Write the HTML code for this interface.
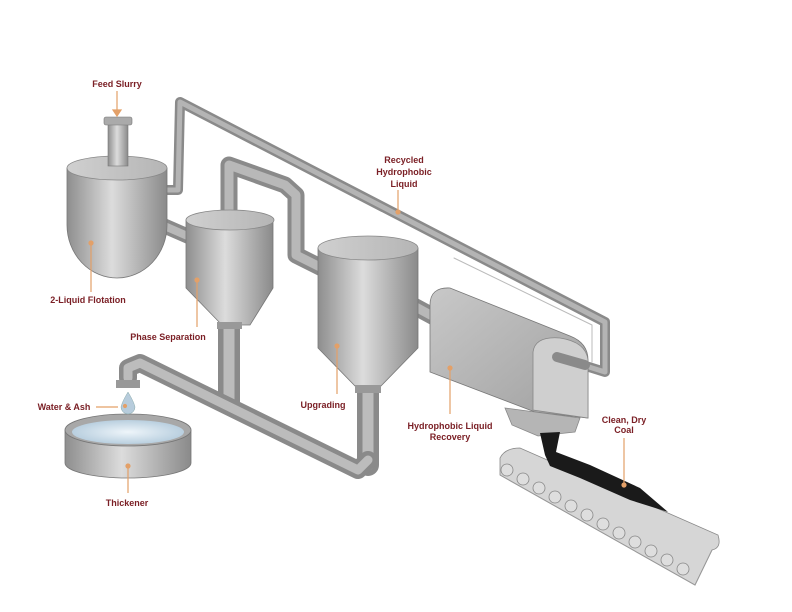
<!DOCTYPE html>
<html><head><meta charset="utf-8"><style>
html,body{margin:0;padding:0;background:#fff}
svg{display:block}
text{font-family:"Liberation Sans",sans-serif;font-weight:bold;font-size:9px;fill:#7b2026;text-anchor:middle}
</style></head><body>
<svg width="792" height="612" viewBox="0 0 792 612" xmlns="http://www.w3.org/2000/svg">
<defs>
<linearGradient id="cyl" x1="0" x2="1" y1="0" y2="0">
<stop offset="0" stop-color="#8e8e8e"/><stop offset="0.45" stop-color="#dcdcdc"/><stop offset="1" stop-color="#8a8a8a"/>
</linearGradient>
<linearGradient id="top" x1="0" x2="1"><stop offset="0" stop-color="#d0d0d0"/><stop offset="1" stop-color="#b5b5b5"/></linearGradient>
<linearGradient id="box" x1="0" x2="1" y1="0" y2="1"><stop offset="0" stop-color="#c8c8c8"/><stop offset="1" stop-color="#a0a0a0"/></linearGradient>
<radialGradient id="water" cx="0.5" cy="0.5" r="0.5"><stop offset="0" stop-color="#eef5fa"/><stop offset="1" stop-color="#b9cfdf"/></radialGradient>
</defs>

<g fill="none" stroke-linecap="round" stroke-linejoin="round">
<path d="M142,190 L178,190 L180,102 L605,322 L605,372 L557,357" stroke="#8a8a8a" stroke-width="10"/>
<path d="M142,190 L178,190 L180,102 L605,322 L605,372 L557,357" stroke="#b4b4b4" stroke-width="5"/>
<path d="M454,258 L592,325 L592,362" stroke="#bbb" stroke-width="1"/>
<path d="M229,212 L229,165 L285,185 L296,195 L296,255 L322,268" stroke="#8a8a8a" stroke-width="17"/>
<path d="M229,212 L229,165 L285,185 L296,195 L296,255 L322,268" stroke="#b8b8b8" stroke-width="9"/>
<path d="M137,214 L192,238" stroke="#8a8a8a" stroke-width="15"/>
<path d="M137,214 L192,238" stroke="#b8b8b8" stroke-width="8"/>
<path d="M412,305 L436,318" stroke="#8a8a8a" stroke-width="17"/>
<path d="M412,305 L436,318" stroke="#b8b8b8" stroke-width="9"/>
<path d="M229,325 L229,403" stroke="#8a8a8a" stroke-width="22"/>
<path d="M229,325 L229,403" stroke="#bcbcbc" stroke-width="11"/>
<path d="M368,385 L368,465" stroke="#8a8a8a" stroke-width="22"/>
<path d="M368,385 L368,465" stroke="#bcbcbc" stroke-width="11"/>
<path d="M128,378 L128,368 L140,363 L358,470 L368,460" stroke="#8a8a8a" stroke-width="18"/>
<path d="M128,378 L128,368 L140,363 L358,470 L368,460" stroke="#bcbcbc" stroke-width="9"/>
</g>
<rect x="116" y="380" width="24" height="8" fill="#999"/>

<path d="M67,168 L67,225 A50,53 0 0 0 167,225 L167,168 Z" fill="url(#cyl)" stroke="#777" stroke-width="0.8"/>
<ellipse cx="117" cy="168" rx="50" ry="12" fill="url(#top)" stroke="#888" stroke-width="0.8"/>
<rect x="108" y="122" width="20" height="44" fill="url(#cyl)" stroke="#777" stroke-width="0.6"/>
<rect x="104" y="117" width="28" height="8" rx="2" fill="#aaa" stroke="#777" stroke-width="0.6"/>

<path d="M186,220 L186,288 L222,325 L250,325 L273,288 L273,220 Z" fill="url(#cyl)" stroke="#777" stroke-width="0.8"/>
<ellipse cx="230" cy="220" rx="44" ry="10" fill="url(#top)" stroke="#888" stroke-width="0.8"/>
<rect x="217" y="322" width="25" height="7" fill="#999"/>

<path d="M318,248 L318,348 L356,387 L380,387 L418,348 L418,248 Z" fill="url(#cyl)" stroke="#777" stroke-width="0.8"/>
<ellipse cx="368" cy="248" rx="50" ry="12" fill="url(#top)" stroke="#888" stroke-width="0.8"/>
<rect x="355" y="385" width="26" height="8" fill="#999"/>

<path d="M430,305 Q430,287 450,288 L570,336 Q588,343 588,360 L588,418 L535,412 L430,372 Z" fill="url(#box)" stroke="#777" stroke-width="0.8"/>
<path d="M533,352 Q535,336 560,338 Q586,342 588,360 L588,418 L533,410 Z" fill="#cfcfcf" stroke="#888" stroke-width="0.8"/>
<path d="M505,408 L580,418 L575,432 L538,436 L512,425 Z" fill="#b5b5b5" stroke="#888" stroke-width="0.8"/>
<path d="M557,357 L585,365" stroke="#8a8a8a" stroke-width="10" stroke-linecap="round"/>

<path d="M500,458 Q505,448 520,448 L718,535 Q722,548 712,550 L695,585 L500,475 Z" fill="#d6d6d6" stroke="#888" stroke-width="0.8"/>
<path d="M500,475 L695,585 L712,550" fill="none" stroke="#999" stroke-width="1"/>
<g fill="#dedede" stroke="#888" stroke-width="0.8">
<circle cx="507" cy="470" r="6"/><circle cx="523" cy="479" r="6"/><circle cx="539" cy="488" r="6"/><circle cx="555" cy="497" r="6"/><circle cx="571" cy="506" r="6"/><circle cx="587" cy="515" r="6"/><circle cx="603" cy="524" r="6"/><circle cx="619" cy="533" r="6"/><circle cx="635" cy="542" r="6"/><circle cx="651" cy="551" r="6"/><circle cx="667" cy="560" r="6"/><circle cx="683" cy="569" r="6"/>
</g>
<path d="M540,433 L560,432 L556,452 L590,465 L640,488 L668,512 L630,500 L580,478 L550,466 L545,455 Z" fill="#1a1a1a"/>

<path d="M65,430 L65,463 A63,15 0 0 0 191,463 L191,430 Z" fill="url(#cyl)" stroke="#777" stroke-width="0.8"/>
<ellipse cx="128" cy="430" rx="63" ry="16" fill="#a8a8a8" stroke="#777" stroke-width="0.8"/>
<ellipse cx="128" cy="432" rx="56" ry="12" fill="url(#water)"/>
<path d="M128,392 Q122,402 121,407 A7,7 0 0 0 135,407 Q134,402 128,392 Z" fill="#b7ccdc" stroke="#8aa" stroke-width="0.5"/>

<g stroke="#e3a068" stroke-width="1.2" fill="#e3a068">
<line x1="117" y1="91" x2="117" y2="112"/><path d="M113,110 L121,110 L117,116 Z"/>
<line x1="91" y1="243" x2="91" y2="292"/><circle cx="91" cy="243" r="2"/>
<line x1="197" y1="280" x2="197" y2="327"/><circle cx="197" cy="280" r="2"/>
<line x1="337" y1="346" x2="337" y2="394"/><circle cx="337" cy="346" r="2"/>
<line x1="398" y1="190" x2="398" y2="212"/><circle cx="398" cy="212" r="2"/>
<line x1="96" y1="407" x2="118" y2="407"/><circle cx="125" cy="406" r="1.5"/>
<line x1="128" y1="466" x2="128" y2="493"/><circle cx="128" cy="466" r="2"/>
<line x1="450" y1="368" x2="450" y2="414"/><circle cx="450" cy="368" r="2"/>
<line x1="624" y1="438" x2="624" y2="484"/><circle cx="624" cy="485" r="2"/>
</g>

<text x="117" y="87">Feed Slurry</text>
<text x="88" y="303">2-Liquid Flotation</text>
<text x="168" y="340">Phase Separation</text>
<text x="323" y="408">Upgrading</text>
<text x="404" y="163">Recycled</text>
<text x="404" y="175">Hydrophobic</text>
<text x="404" y="187">Liquid</text>
<text x="64" y="410">Water &amp; Ash</text>
<text x="127" y="506">Thickener</text>
<text x="450" y="429">Hydrophobic Liquid</text>
<text x="450" y="440">Recovery</text>
<text x="624" y="423">Clean, Dry</text>
<text x="624" y="433">Coal</text>
</svg>
</body></html>
